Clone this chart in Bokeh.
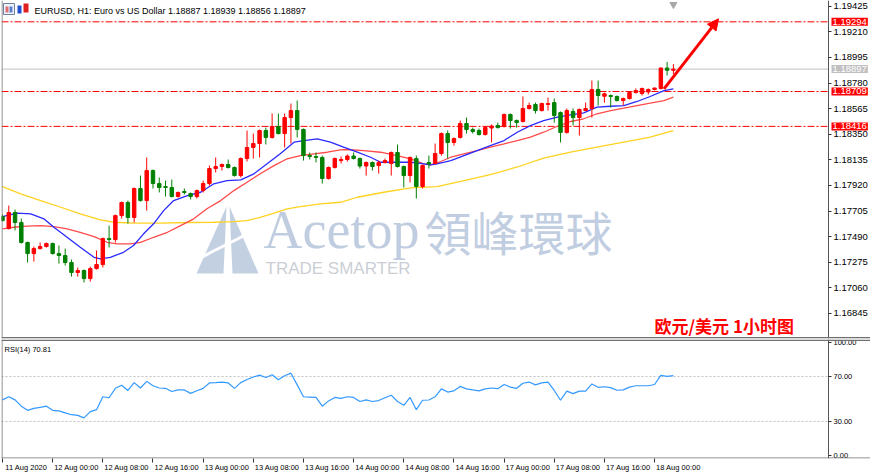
from bokeh.plotting import figure
from bokeh.layouts import column
from bokeh.models import (Range1d, LinearAxis, FixedTicker, PrintfTickFormatter,
                          Span, Label, Arrow, NormalHead, ColumnDataSource)
from bokeh.embed import file_html
from bokeh.resources import INLINE

# ---------------- data (EURUSD H1, 11 Aug 16:00 .. 18 Aug 03:00) ----------------
opens = [1.17659, 1.17558, 1.17693, 1.17609, 1.17441, 1.17348, 1.17390, 1.17407, 1.17432, 1.17348,
         1.17332, 1.17273, 1.17189, 1.17206, 1.17138, 1.17222, 1.17256, 1.17474, 1.17466, 1.17667,
         1.17777, 1.17651, 1.17894, 1.17793, 1.18045, 1.17936, 1.17911, 1.17903, 1.17827, 1.17869,
         1.17852, 1.17827, 1.17877, 1.17936, 1.18062, 1.18079, 1.18096, 1.18071, 1.18003, 1.18146,
         1.18239, 1.18272, 1.18381, 1.18323, 1.18415, 1.18356, 1.18490, 1.18549, 1.18390, 1.18171,
         1.18163, 1.18155, 1.17978, 1.18071, 1.18129, 1.18138, 1.18167, 1.18146, 1.18083, 1.18113,
         1.18087, 1.18113, 1.18104, 1.18197, 1.18079, 1.18003, 1.18146, 1.17911, 1.18113, 1.18104,
         1.18188, 1.18356, 1.18281, 1.18323, 1.18440, 1.18390, 1.18381, 1.18348, 1.18402, 1.18423,
         1.18415, 1.18516, 1.18465, 1.18457, 1.18566, 1.18600, 1.18549, 1.18600, 1.18616, 1.18532,
         1.18365, 1.18541, 1.18490, 1.18549, 1.18566, 1.18726, 1.18669, 1.18675, 1.18667, 1.18633,
         1.18650, 1.18700, 1.18692, 1.18705, 1.18726, 1.18734, 1.18906, 1.18887]
highs = [1.17676, 1.17751, 1.17718, 1.17642, 1.17449, 1.17407, 1.17441, 1.17441, 1.17441, 1.17416,
         1.17390, 1.17298, 1.17231, 1.17214, 1.17239, 1.17374, 1.17483, 1.17583, 1.17676, 1.17785,
         1.17793, 1.17903, 1.18003, 1.18155, 1.18054, 1.17987, 1.17961, 1.17970, 1.17869, 1.17894,
         1.17861, 1.17886, 1.17961, 1.18087, 1.18155, 1.18104, 1.18138, 1.18079, 1.18155, 1.18381,
         1.18356, 1.18390, 1.18406, 1.18524, 1.18524, 1.18524, 1.18608, 1.18633, 1.18398, 1.18197,
         1.18197, 1.18171, 1.18079, 1.18155, 1.18163, 1.18180, 1.18197, 1.18155, 1.18121, 1.18121,
         1.18129, 1.18146, 1.18205, 1.18264, 1.18087, 1.18163, 1.18171, 1.18096, 1.18171, 1.18272,
         1.18365, 1.18381, 1.18323, 1.18465, 1.18490, 1.18406, 1.18398, 1.18415, 1.18432, 1.18448,
         1.18524, 1.18524, 1.18474, 1.18667, 1.18616, 1.18616, 1.18616, 1.18658, 1.18650, 1.18541,
         1.18566, 1.18566, 1.18566, 1.18616, 1.18801, 1.18801, 1.18700, 1.18684, 1.18675, 1.18658,
         1.18709, 1.18734, 1.18742, 1.18734, 1.18742, 1.18910, 1.18957, 1.18939]
lows = [1.17617, 1.17550, 1.17542, 1.17432, 1.17273, 1.17281, 1.17382, 1.17399, 1.17340, 1.17264,
        1.17248, 1.17155, 1.17155, 1.17105, 1.17113, 1.17214, 1.17231, 1.17399, 1.17441, 1.17642,
        1.17600, 1.17609, 1.17785, 1.17709, 1.17894, 1.17861, 1.17827, 1.17819, 1.17819, 1.17844,
        1.17802, 1.17810, 1.17861, 1.17919, 1.18029, 1.18045, 1.18062, 1.17995, 1.17987, 1.18121,
        1.18146, 1.18155, 1.18264, 1.18314, 1.18348, 1.18239, 1.18272, 1.18323, 1.18129, 1.18138,
        1.18113, 1.17936, 1.17970, 1.18062, 1.18104, 1.18121, 1.18138, 1.18062, 1.18003, 1.18045,
        1.18020, 1.18104, 1.18003, 1.18071, 1.17903, 1.17945, 1.17810, 1.17894, 1.18062, 1.18096,
        1.18171, 1.18146, 1.18255, 1.18314, 1.18356, 1.18356, 1.18339, 1.18339, 1.18281, 1.18398,
        1.18406, 1.18398, 1.18406, 1.18448, 1.18558, 1.18524, 1.18541, 1.18549, 1.18448, 1.18281,
        1.18356, 1.18423, 1.18339, 1.18549, 1.18490, 1.18591, 1.18616, 1.18574, 1.18625, 1.18591,
        1.18642, 1.18692, 1.18675, 1.18684, 1.18717, 1.18726, 1.18843, 1.18856]
closes = [1.17625, 1.17693, 1.17609, 1.17441, 1.17348, 1.17390, 1.17407, 1.17432, 1.17348, 1.17332,
          1.17273, 1.17189, 1.17206, 1.17138, 1.17222, 1.17256, 1.17474, 1.17466, 1.17667, 1.17777,
          1.17651, 1.17894, 1.17793, 1.18045, 1.17936, 1.17903, 1.17903, 1.17827, 1.17861, 1.17861,
          1.17827, 1.17877, 1.17936, 1.18062, 1.18079, 1.18096, 1.18071, 1.18003, 1.18146, 1.18239,
          1.18272, 1.18381, 1.18323, 1.18415, 1.18356, 1.18490, 1.18549, 1.18390, 1.18171, 1.18163,
          1.18155, 1.17978, 1.18071, 1.18146, 1.18138, 1.18167, 1.18146, 1.18083, 1.18113, 1.18079,
          1.18113, 1.18129, 1.18197, 1.18079, 1.18003, 1.18155, 1.17911, 1.18087, 1.18100, 1.18188,
          1.18356, 1.18281, 1.18314, 1.18440, 1.18390, 1.18373, 1.18348, 1.18406, 1.18419, 1.18406,
          1.18516, 1.18465, 1.18448, 1.18566, 1.18591, 1.18549, 1.18608, 1.18608, 1.18507, 1.18365,
          1.18549, 1.18490, 1.18558, 1.18566, 1.18726, 1.18675, 1.18689, 1.18667, 1.18633, 1.18650,
          1.18700, 1.18717, 1.18734, 1.18726, 1.18738, 1.18906, 1.18887, 1.18897]

# moving averages (bar position, price)
ma_fast_bars = [0, 2.3, 4.5, 6.6, 8.2, 10.3, 12.4, 14.6, 15.6, 17.2, 19.3, 20.9, 22.5, 24.1, 25.7,
                27.3, 29.5, 31.6, 33.7, 35.8, 38.0, 40.1, 42.2, 44.3, 46.5, 48.1, 50.2, 52.3, 54.4,
                56.6, 58.7, 60.3, 62.9, 65.1, 67.2, 68.3, 69.3, 71.5, 73.6, 75.7, 77.8, 80.0, 82.1,
                84.2, 86.3, 88.5, 90.6, 92.7, 94.8, 97.0, 99.1, 101.2, 103.3, 105.5, 107.0]
ma_fast = [1.17659, 1.17687, 1.17682, 1.17640, 1.17569, 1.17485, 1.17401, 1.17317, 1.17304, 1.17317,
           1.17359, 1.17416, 1.17514, 1.17598, 1.17709, 1.17793, 1.17835, 1.17863, 1.17934, 1.17961,
           1.17967, 1.18018, 1.18102, 1.18186, 1.18283, 1.18297, 1.18312, 1.18283, 1.18241, 1.18199,
           1.18157, 1.18115, 1.18115, 1.18115, 1.18102, 1.18093, 1.18102, 1.18129, 1.18171, 1.18213,
           1.18255, 1.18297, 1.18367, 1.18423, 1.18465, 1.18493, 1.18513, 1.18530, 1.18577, 1.18585,
           1.18591, 1.18625, 1.18667, 1.18717, 1.18731]
ma_mid_bars = [0, 1.8, 3.9, 6.1, 8.2, 10.3, 12.4, 14.6, 16.7, 18.3, 20.4, 22.0, 24.1, 26.3, 28.4,
               30.5, 32.6, 34.8, 36.9, 39.0, 41.1, 43.3, 45.4, 47.5, 49.7, 51.8, 53.9, 55.0, 57.6,
               60.3, 62.9, 65.1, 67.2, 68.3, 69.9, 71.5, 73.6, 75.7, 77.8, 80.0, 82.1, 84.2, 86.3,
               88.5, 90.6, 92.7, 94.8, 97.0, 99.1, 101.2, 103.3, 105.5, 107.0]
ma_mid = [1.17556, 1.17569, 1.17578, 1.17583, 1.17575, 1.17556, 1.17527, 1.17491, 1.17443, 1.17430,
          1.17430, 1.17443, 1.17485, 1.17527, 1.17583, 1.17640, 1.17724, 1.17793, 1.17877, 1.17947,
          1.18018, 1.18087, 1.18144, 1.18171, 1.18186, 1.18199, 1.18219, 1.18222, 1.18213, 1.18199,
          1.18171, 1.18144, 1.18102, 1.18093, 1.18121, 1.18157, 1.18186, 1.18213, 1.18241, 1.18269,
          1.18297, 1.18325, 1.18367, 1.18417, 1.18457, 1.18480, 1.18522, 1.18549, 1.18569, 1.18591,
          1.18611, 1.18633, 1.18661]
ma_slow_bars = [0, 2.9, 6.1, 9.3, 12.4, 15.6, 17.8, 20.9, 25.2, 29.5, 33.7, 36.9, 39.0, 41.1, 43.3,
                45.4, 47.5, 50.7, 53.9, 56.6, 60.8, 65.1, 69.3, 73.6, 77.8, 82.1, 86.3, 90.6, 94.8,
                99.1, 103.3, 107.0]
ma_slow = [1.17911, 1.17850, 1.17793, 1.17737, 1.17682, 1.17631, 1.17611, 1.17603, 1.17603, 1.17609,
           1.17611, 1.17617, 1.17625, 1.17653, 1.17687, 1.17724, 1.17743, 1.17766, 1.17779, 1.17821,
           1.17863, 1.17900, 1.17910, 1.17960, 1.18010, 1.18075, 1.18150, 1.18199, 1.18241, 1.18283,
           1.18325, 1.18381]

rsi = [49.2, 52.0, 49.2, 43.6, 39.9, 41.6, 42.6, 43.6, 39.9, 39.4,
       37.7, 36.0, 35.4, 33.2, 38.8, 40.5, 52.0, 51.1, 59.5, 62.3,
       57.6, 64.6, 59.8, 65.7, 61.8, 59.8, 59.5, 56.7, 58.1, 58.1,
       55.0, 57.3, 59.5, 64.3, 64.6, 65.1, 64.3, 59.5, 64.6, 67.4,
       69.6, 71.3, 69.1, 71.6, 67.1, 70.7, 73.0, 62.6, 52.0, 51.7,
       51.4, 43.6, 48.3, 51.4, 50.6, 52.0, 51.4, 47.8, 49.2, 47.8,
       48.6, 51.1, 53.4, 47.8, 44.4, 51.4, 40.5, 48.9, 49.1, 52.0,
       59.0, 56.2, 57.3, 61.2, 59.0, 58.1, 57.3, 59.0, 59.8, 59.2,
       62.9, 60.6, 59.5, 64.0, 65.1, 62.6, 64.3, 65.1, 57.6, 48.9,
       57.0, 54.8, 57.0, 57.0, 63.4, 60.4, 60.9, 60.1, 57.8, 58.1,
       60.6, 61.8, 61.8, 61.8, 62.9, 71.0, 70.2, 70.81]

level_lines = [1.19294, 1.18709, 1.18416]
price_ticks = [1.19425, 1.19210, 1.18995, 1.18780, 1.18565, 1.18350, 1.18135,
               1.17920, 1.17705, 1.17490, 1.17275, 1.17060, 1.16845]
rsi_ticks = [0, 30, 70, 100]
rsi_levels = [70, 30]
tick_bars = [0, 8, 16, 24, 32, 40, 48, 56, 64, 72, 80, 88, 96, 104]
time_labels = ["11 Aug 2020", "12 Aug 00:00", "12 Aug 08:00", "12 Aug 16:00", "13 Aug 00:00",
               "13 Aug 08:00", "13 Aug 16:00", "14 Aug 00:00", "14 Aug 08:00", "14 Aug 16:00",
               "17 Aug 00:00", "17 Aug 08:00", "17 Aug 16:00", "18 Aug 00:00"]
arrow_bars = [105.5, 114.2]
arrow_prices = [1.18731, 1.19319]

# ---------------- layout constants ----------------
W, H_MAIN, H_RSI = 870, 339, 137
FRAME_L = 1
FRAME_W = W - FRAME_L           # frame runs to the right edge; price axis is pinned inside
FRAME_H = 338
PXB = 6.27                      # pixels per bar
X0 = -0.16
X1 = X0 + FRAME_W / PXB
Y_BOT, Y_TOP = 1.16635, 1.19473
R_BOT, R_TOP = -3, 103
R_FRAME_TOP, R_FRAME_H = 339, 119
LBL_SHIFT = 3.8
AXIS_PX = 828

RED, GREEN = "#ff0000", "#008000"
FONT = "Liberation Sans"
WM = "#b9c8dd"
BORDER = "#707070"


def px2x(px):
    return X0 + (px - FRAME_L) / PXB


def py2y(py):
    return Y_TOP - py * (Y_TOP - Y_BOT) / FRAME_H


def py2r(py):
    return R_TOP - (py - R_FRAME_TOP) * (R_TOP - R_BOT) / R_FRAME_H


AXIS_X = px2x(AXIS_PX)

bars = list(range(len(opens)))
colors = [RED if c >= o else GREEN for o, c in zip(opens, closes)]
src = ColumnDataSource(dict(
    x=bars, high=highs, low=lows,
    top=[max(o, c) for o, c in zip(opens, closes)],
    bottom=[min(o, c) for o, c in zip(opens, closes)],
    color=colors))


def style_price_axis(ax, ticks, fmt, size):
    ax.ticker = FixedTicker(ticks=ticks)
    ax.formatter = PrintfTickFormatter(format=fmt)
    ax.fixed_location = AXIS_X
    ax.major_label_text_font = FONT
    ax.major_label_text_font_size = size
    ax.major_label_text_color = "#000000"
    ax.major_tick_out = 3
    ax.major_tick_in = 0
    ax.minor_tick_out = 0
    ax.minor_tick_in = 0
    ax.major_label_standoff = 2
    ax.axis_line_color = "#555555"
    ax.major_tick_line_color = "#303030"


# ---------------- main price panel ----------------
x_range = Range1d(X0, X1)
p = figure(width=W, height=H_MAIN, x_range=x_range, y_range=Range1d(Y_BOT, Y_TOP),
           output_backend="svg", toolbar_location=None, x_axis_location=None,
           y_axis_location="right", min_border_left=FRAME_L, min_border_right=0,
           min_border_top=0, min_border_bottom=1)
p.grid.visible = False
p.outline_line_color = None
p.background_fill_color = "white"
p.border_fill_color = "white"
style_price_axis(p.yaxis[0], price_ticks, "%.5f", "9.5px")

# frame borders (left, bottom)
p.add_layout(Span(location=px2x(1.5), dimension="height", line_color=BORDER, line_width=1))
p.add_layout(Span(location=py2y(337.3), dimension="width", line_color=BORDER, line_width=1.5))

# watermark
logo_xs = [[px2x(v) for v in (196, 226, 223)], [px2x(v) for v in (232, 229, 258)]]
logo_ys = [[py2y(v) for v in (273, 206, 273)], [py2y(v) for v in (273, 206, 273)]]
p.patches(logo_xs, logo_ys, fill_color=WM, line_color=None, fill_alpha=0.85, level="underlay")
p.line([px2x(v) for v in (190, 212, 238, 262)], [py2y(v) for v in (263, 251, 238, 225)],
       line_color="white", line_width=3, level="underlay")
p.add_layout(Label(x=px2x(263), y=py2y(229), text="Acetop", text_font="Liberation Serif",
                   text_font_size="54px", text_color=WM, text_alpha=0.9,
                   text_baseline="middle", level="underlay"))
p.add_layout(Label(x=px2x(424), y=py2y(230), text="領峰環球", text_font="Noto Sans CJK TC",
                   text_font_size="47px", text_color=WM, text_alpha=0.9,
                   text_baseline="middle", level="underlay"))
p.add_layout(Label(x=px2x(265), y=py2y(268), text="TRADE SMARTER", text_font=FONT,
                   text_font_size="17px", text_color="#c4c8cf", text_alpha=0.9,
                   text_baseline="middle", level="underlay"))

# level lines and current price line (up to the price axis)
n_lv = len(level_lines)
p.segment(x0=[X0] * n_lv, x1=[AXIS_X] * n_lv, y0=level_lines, y1=level_lines,
          line_color=RED, line_dash="7 2 2 2", line_width=1)
p.segment(x0=[X0], x1=[AXIS_X], y0=[closes[-1]], y1=[closes[-1]],
          line_color="#c0c0c0", line_width=1)

# moving averages
p.line(ma_slow_bars, ma_slow, line_color="#ffd21f", line_width=1.3)
p.line(ma_mid_bars, ma_mid, line_color="#ff4a4a", line_width=1.3)
p.line(ma_fast_bars, ma_fast, line_color="#2a2aff", line_width=1.3)

# candles
p.segment(x0="x", y0="low", x1="x", y1="high", line_color="color", line_width=1, source=src)
p.vbar(x="x", width=0.55, top="top", bottom="bottom", fill_color="color",
       line_color="color", line_width=1, source=src)

# arrow
p.add_layout(Arrow(end=NormalHead(size=11, fill_color=RED, line_color=RED),
                   x_start=arrow_bars[0], y_start=arrow_prices[0],
                   x_end=arrow_bars[1], y_end=arrow_prices[1],
                   line_color=RED, line_width=3))

# chart shift marker
p.scatter(x=[bars[-1]], y=[py2y(4)], marker="inverted_triangle", size=7,
          fill_color="#a8a8a8", line_color="#a8a8a8")

# header icons + text
p.quad(left=[px2x(3)], right=[px2x(14)], top=[py2y(3)], bottom=[py2y(14)],
       fill_color="#eef2fa", line_color="#7080a0")
p.quad(left=[px2x(5), px2x(9)], right=[px2x(8), px2x(12)], top=[py2y(6), py2y(6)],
       bottom=[py2y(12), py2y(12)], fill_color=["#e07070", "#6080d0"], line_color=None)
p.quad(left=[px2x(17), px2x(23)], right=[px2x(21), px2x(28)], top=[py2y(5), py2y(3)],
       bottom=[py2y(13), py2y(12)], fill_color=["#2050d0", "#e02020"], line_color=None)
header = "EURUSD, H1:  Euro vs US Dollar  %.5f %.5f %.5f %.5f" % (
    opens[-1], highs[-1], lows[-1], closes[-1])
p.add_layout(Label(x=px2x(34), y=py2y(10), text=header, text_font=FONT,
                   text_font_size="9px", text_color="#000000", text_baseline="middle"))

# Chinese caption
p.add_layout(Label(x=px2x(654), y=py2y(325), text="欧元/美元 1小时图",
                   text_font="Noto Sans CJK SC", text_font_style="bold",
                   text_font_size="17px", text_color=RED, text_baseline="middle"))

# price-axis value boxes
for lvl in level_lines:
    p.add_layout(Label(x=px2x(831), y=lvl, text="%.5f" % lvl, text_font=FONT,
                       text_font_size="9.5px", text_color="white", text_baseline="middle",
                       background_fill_color=RED, padding=1))
p.add_layout(Label(x=px2x(831), y=closes[-1], text="%.5f" % closes[-1], text_font=FONT,
                   text_font_size="9.5px", text_color="white", text_baseline="middle",
                   background_fill_color="#c0c0c0", padding=1))

# ---------------- RSI panel ----------------
r = figure(width=W, height=H_RSI, x_range=x_range, y_range=Range1d(R_BOT, R_TOP),
           output_backend="svg", toolbar_location=None, x_axis_location=None,
           y_axis_location="right", min_border_left=FRAME_L, min_border_right=0,
           min_border_top=0, min_border_bottom=18)
r.grid.visible = False
r.outline_line_color = None
r.background_fill_color = "white"
r.border_fill_color = "white"
style_price_axis(r.yaxis[0], rsi_ticks, "%.2f", "7.5px")

r.add_layout(Span(location=px2x(1.5), dimension="height", line_color=BORDER, line_width=1))
r.add_layout(Span(location=py2r(339.7), dimension="width", line_color=BORDER, line_width=1.5))
r.add_layout(Span(location=py2r(457.5), dimension="width", line_color=BORDER, line_width=1))

n_rl = len(rsi_levels)
r.segment(x0=[X0] * n_rl, x1=[AXIS_X] * n_rl, y0=rsi_levels, y1=rsi_levels,
          line_color="#c0c0c0", line_dash="2 2", line_width=1)
r.line(bars, rsi, line_color="#3399ff", line_width=1.2)
r.add_layout(Label(x=px2x(4), y=py2r(349), text="RSI(14) %.2f" % rsi[-1], text_font=FONT,
                   text_font_size="7.5px", text_color="#000000", text_baseline="middle"))

# time axis: tick marks at bar positions, labels to the right of each mark
tick_axis = LinearAxis(ticker=FixedTicker(ticks=tick_bars), major_tick_out=4, major_tick_in=0,
                       minor_tick_out=0, minor_tick_in=0, axis_line_color=None,
                       major_tick_line_color="#303030", major_label_text_font_size="1px",
                       major_label_text_alpha=0, major_label_standoff=0)
r.add_layout(tick_axis, "below")
r.extra_x_ranges = {"lbl": Range1d(X0 - LBL_SHIFT, X1 - LBL_SHIFT)}
label_axis = LinearAxis(x_range_name="lbl", ticker=FixedTicker(ticks=tick_bars),
                        major_label_overrides={b: t for b, t in zip(tick_bars, time_labels)},
                        major_tick_out=0, major_tick_in=0, minor_tick_out=0, minor_tick_in=0,
                        axis_line_color=None, major_label_standoff=0,
                        major_label_text_font=FONT, major_label_text_font_size="7.5px",
                        major_label_text_color="#000000")
r.add_layout(label_axis, "below")

layout = column(p, r, spacing=0)
open("out.html", "w").write(file_html(layout, INLINE))
